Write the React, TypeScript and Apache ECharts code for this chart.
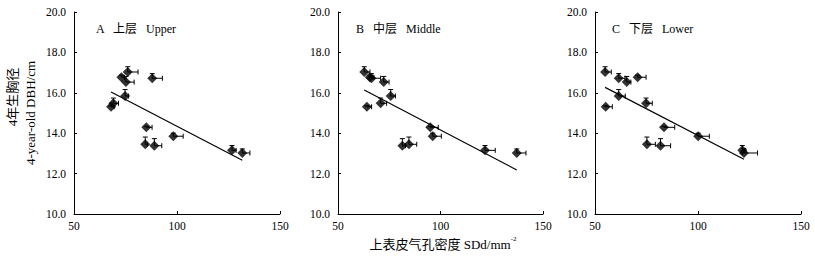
import React, { useEffect, useRef } from "react";
import * as echarts from "echarts";

// Shared DBH values (same 13 trees in each panel) and their upper error
const dbh = [17.03, 16.77, 16.72, 16.53, 15.84, 15.48, 15.31, 14.29, 13.85, 13.45, 13.38, 13.15, 13.02];
const dbhErr = [0.26, 0.1, 0.23, 0.28, 0.32, 0.26, 0.05, 0.05, 0.15, 0.36, 0.35, 0.24, 0.2];

// Stomatal density per panel and its right error
const sdUpper = [76.1, 73.0, 88.0, 75.2, 74.8, 69.1, 68.0, 85.1, 98.2, 84.6, 89.0, 126.7, 131.7];
const sdUpperErr = [5, 1.5, 4.9, 4, 1.7, 2.5, 1.5, 2.8, 4.8, 1, 3.6, 2, 3.7];
const sdMiddle = [62.8, 65.5, 66.3, 72.3, 75.7, 70.8, 64.1, 95.0, 96.2, 84.6, 81.4, 121.7, 137.2];
const sdMiddleErr = [2.8, 2, 4.5, 2.6, 2.3, 2.9, 2.3, 3.9, 4.2, 3.8, 1.5, 5, 4.5];
const sdLower = [54.9, 70.7, 61.5, 65.4, 61.5, 74.8, 55.2, 83.5, 100.1, 75.2, 81.8, 121.5, 122.3];
const sdLowerErr = [3, 4.1, 3.1, 2, 3.2, 3, 3.2, 5.2, 5.4, 4.1, 4.9, 1.5, 6.6];

// Regression line endpoints [x1, y1, x2, y2]
const fitUpper = [68, 16.04, 131.7, 12.66];
const fitMiddle = [62.8, 16.14, 137.2, 12.18];
const fitLower = [54.9, 16.27, 122.3, 12.71];

const panelLetters = ["A", "B", "C"];
const panelCn = ["上层", "中层", "下层"];
const panelEn = ["Upper", "Middle", "Lower"];
const xTicks = [50, 100, 150];
const yTicks = [10, 12, 14, 16, 18, 20];
const xAxisName = "上表皮气孔密度 SDd/mm";
const yAxisNameCn = "4年生胸径";
const yAxisNameEn = "4-year-old DBH/cm";

const FONT = "'Liberation Serif', 'Times New Roman', 'Noto Sans CJK SC', serif";

export default function App() {
  const ref = useRef<HTMLDivElement>(null);

  useEffect(() => {
    if (!ref.current) return;
    const chart = echarts.init(ref.current, undefined, { renderer: "svg" });

    const panels = [
      { sd: sdUpper, sdErr: sdUpperErr, fit: fitUpper, left: 74, width: 206, tx: 22 },
      { sd: sdMiddle, sdErr: sdMiddleErr, fit: fitMiddle, left: 338, width: 205, tx: 18 },
      { sd: sdLower, sdErr: sdLowerErr, fit: fitLower, left: 595, width: 206, tx: 17 },
    ];

    const grids: any[] = [];
    const xAxes: any[] = [];
    const yAxes: any[] = [];
    const series: any[] = [];
    const graphics: any[] = [];

    panels.forEach((p, i) => {
      grids.push({ left: p.left, top: 12, width: p.width, height: 202, containLabel: false });
      xAxes.push({
        type: "value",
        gridIndex: i,
        min: xTicks[0],
        max: xTicks[xTicks.length - 1],
        interval: xTicks[1] - xTicks[0],
        axisLine: { show: true, lineStyle: { color: "#000", width: 1 } },
        axisTick: { show: true, inside: true, length: 3, lineStyle: { color: "#000" } },
        axisLabel: { color: "#000", fontFamily: FONT, fontSize: 11.5, margin: 6 },
        splitLine: { show: false },
      });
      yAxes.push({
        type: "value",
        gridIndex: i,
        min: yTicks[0],
        max: yTicks[yTicks.length - 1],
        interval: yTicks[1] - yTicks[0],
        axisLine: { show: true, lineStyle: { color: "#000", width: 1 } },
        axisTick: { show: true, inside: true, length: 3, lineStyle: { color: "#000" } },
        axisLabel: {
          color: "#000",
          fontFamily: FONT,
          fontSize: 11.5,
          margin: 8,
          formatter: (v: number) => v.toFixed(1),
        },
        splitLine: { show: false },
      });

      const errData = p.sd.map((x, k) => [x, dbh[k], p.sdErr[k], dbhErr[k]]);
      series.push({
        type: "custom",
        xAxisIndex: i,
        yAxisIndex: i,
        encode: { x: 0, y: 1 },
        data: errData,
        z: 2,
        renderItem: (params: any, api: any) => {
          const x = api.value(0);
          const y = api.value(1);
          const xe = api.value(2);
          const ye = api.value(3);
          const c = api.coord([x, y]);
          const cx = api.coord([x + xe, y]);
          const cy = api.coord([x, y + ye]);
          const cap = 2.5;
          const st = { stroke: "#000", lineWidth: 1 };
          return {
            type: "group",
            children: [
              { type: "line", shape: { x1: c[0], y1: c[1], x2: cx[0], y2: c[1] }, style: st },
              { type: "line", shape: { x1: cx[0], y1: c[1] - cap, x2: cx[0], y2: c[1] + cap }, style: st },
              { type: "line", shape: { x1: c[0], y1: c[1], x2: c[0], y2: cy[1] }, style: st },
              { type: "line", shape: { x1: c[0] - cap, y1: cy[1], x2: c[0] + cap, y2: cy[1] }, style: st },
            ],
          };
        },
      });
      series.push({
        type: "scatter",
        xAxisIndex: i,
        yAxisIndex: i,
        symbol: "diamond",
        symbolSize: 10,
        itemStyle: { color: "#000" },
        data: p.sd.map((x, k) => [x, dbh[k]]),
        z: 3,
      });
      series.push({
        type: "line",
        xAxisIndex: i,
        yAxisIndex: i,
        symbol: "none",
        lineStyle: { color: "#000", width: 1.2 },
        data: [
          [p.fit[0], p.fit[1]],
          [p.fit[2], p.fit[3]],
        ],
        z: 1,
      });

      graphics.push({
        type: "text",
        x: p.left + p.tx,
        y: 29,
        style: {
          text: panelLetters[i] + "   " + panelCn[i] + "   " + panelEn[i],
          fontFamily: FONT,
          fontSize: 12,
          fill: "#000",
          verticalAlign: "middle",
        },
      });
    });

    graphics.push({
      type: "text",
      x: 443,
      y: 243,
      style: {
        text: "{m|" + xAxisName + "}{s|-2}",
        align: "center",
        verticalAlign: "middle",
        rich: {
          m: { fontFamily: FONT, fontSize: 13, fill: "#000", lineHeight: 16, verticalAlign: "bottom" },
          s: { fontFamily: FONT, fontSize: 7, fill: "#000", lineHeight: 16, verticalAlign: "top" },
        },
      },
    });
    graphics.push({
      type: "text",
      x: 12,
      y: 97,
      rotation: Math.PI / 2,
      style: {
        text: yAxisNameCn,
        fontFamily: FONT,
        fontSize: 13,
        fill: "#000",
        align: "center",
        verticalAlign: "middle",
      },
    });
    graphics.push({
      type: "text",
      x: 30,
      y: 113,
      rotation: Math.PI / 2,
      style: {
        text: yAxisNameEn,
        fontFamily: FONT,
        fontSize: 13,
        fill: "#000",
        align: "center",
        verticalAlign: "middle",
      },
    });

    chart.setOption({
      animation: false,
      backgroundColor: "#fff",
      grid: grids,
      xAxis: xAxes,
      yAxis: yAxes,
      series,
      graphic: graphics,
    });

    return () => chart.dispose();
  }, []);

  return (
    <div
      ref={ref}
      style={{ position: "fixed", left: 0, top: 0, width: 815, height: 256 }}
    />
  );
}
